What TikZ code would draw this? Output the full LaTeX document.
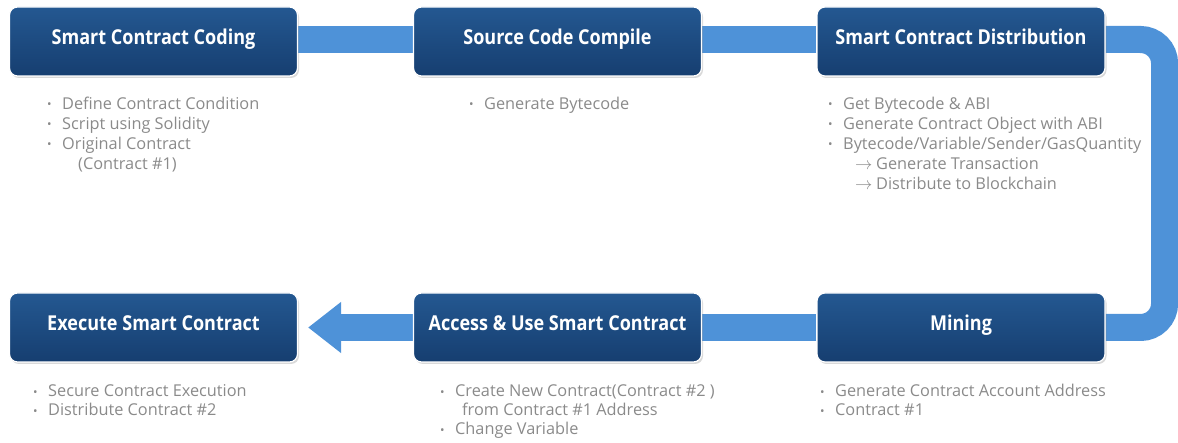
\documentclass[tikz,border=0pt]{standalone}
\usepackage{fontspec}
\setmainfont{Open Sans}
\newfontfamily\titlefont{Open Sans}[FakeStretch=0.88]
\usetikzlibrary{arrows.meta,shadows}
\pgfdeclarelayer{background}
\pgfsetlayers{background,main}
\definecolor{boxtop}{RGB}{36,88,145}
\definecolor{boxbot}{RGB}{22,62,112}
\definecolor{barblue}{RGB}{78,146,216}
\definecolor{txtgray}{RGB}{138,138,138}
\newcommand\bul{\makebox[15pt][l]{\fontsize{12}{12}\selectfont\raisebox{1pt}{•}}}
\tikzset{
  stagebox/.style={rounded corners=8pt, top color=boxtop, bottom color=boxbot,
    draw=white, line width=1.2pt, minimum width=288pt, minimum height=69pt,
    text=white, text height=0.72em, text depth=0.08em,
    font=\titlefont\bfseries\fontsize{20.5}{24}\selectfont,
    drop shadow={shadow xshift=1.5pt, shadow yshift=-2pt, opacity=0.3, fill=gray}},
  bar/.style={line width=27pt, draw=barblue},
  listline/.style={anchor=base west, inner sep=0pt, text=txtgray,
    font=\fontsize{16.3}{20}\selectfont}
}
\begin{document}
\begin{tikzpicture}[x=1pt,y=-1pt]
\useasboundingbox (0,0) rectangle (1178,443);
% stage boxes
\node[stagebox] (b1) at (153.5,41.5) {Smart Contract Coding};
\node[stagebox] (b2) at (557.5,41.5) {Source Code Compile};
\node[stagebox] (b3) at (961,41.5) {Smart Contract Distribution};
\node[stagebox] (b4) at (153.5,327.5) {Execute Smart Contract};
\node[stagebox] (b5) at (557.5,327.5) {Access \& Use Smart Contract};
\node[stagebox] (b6) at (961,327.5) {Mining};
% connectors
\begin{pgfonlayer}{background}
\draw[bar] ([yshift=2pt]b1.east) -- ([yshift=2pt]b2.west);
\draw[bar] ([yshift=2pt]b2.east) -- ([yshift=2pt]b3.west);
\draw[bar, rounded corners=24pt] ([yshift=2pt]b3.east) -- ++(59,0) |- (b6.east);
\draw[bar] (b6.west) -- (b5.east);
\draw[bar, -{Triangle[width=49pt,length=33pt]}] (b5.west) -- ([xshift=10pt]b4.east);
\end{pgfonlayer}
% lists
\node[listline] (l1a) at (47,110) {\bul Define Contract Condition};
\node[listline] (l1b) at (47,130) {\bul Script using Solidity};
\node[listline] (l1c) at (47,150) {\bul Original Contract};
\node[listline] (l1d) at (78,170) {(Contract \#1)};
\node[listline] (l2a) at (469,110) {\bul Generate Bytecode};
\node[listline] (l3a) at (828,110) {\bul Get Bytecode \& ABI};
\node[listline] (l3b) at (828,130) {\bul Generate Contract Object with ABI};
\node[listline] (l3c) at (828,150) {\bul Bytecode/Variable/Sender/GasQuantity};
\node[listline] (l3d) at (855,170) {\makebox[21pt][l]{$\rightarrow$}Generate Transaction};
\node[listline] (l3e) at (855,190) {\makebox[21pt][l]{$\rightarrow$}Distribute to Blockchain};
\node[listline] (l4a) at (33,397) {\bul Secure Contract Execution};
\node[listline] (l4b) at (33,416) {\bul Distribute Contract \#2};
\node[listline] (l5a) at (440,397) {\bul Create New Contract(Contract \#2 )};
\node[listline] (l5b) at (462,416) {from Contract \#1 Address};
\node[listline] (l5c) at (440,435) {\bul Change Variable};
\node[listline] (l6a) at (820,397) {\bul Generate Contract Account Address};
\node[listline] (l6b) at (820,416) {\bul Contract \#1};
\end{tikzpicture}
\end{document}
